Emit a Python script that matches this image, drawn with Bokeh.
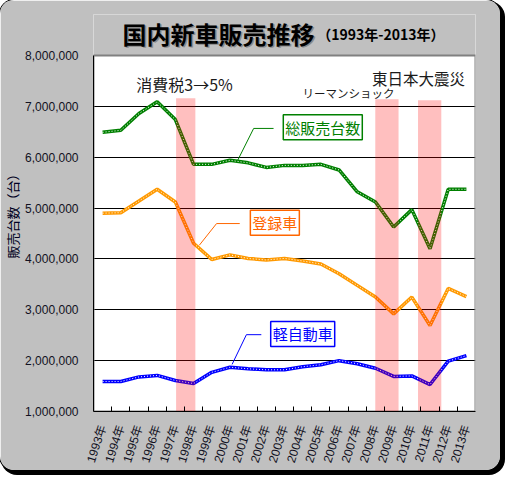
from bokeh.plotting import figure
from bokeh.models import Range1d, FixedTicker, Label, ColumnDataSource, NumeralTickFormatter, CustomJSTickFormatter
from bokeh.embed import file_html
from bokeh.resources import INLINE

# ---------------- data ----------------
years = [1993, 1994, 1995, 1996, 1997, 1998, 1999, 2000, 2001, 2002, 2003,
         2004, 2005, 2006, 2007, 2008, 2009, 2010, 2011, 2012, 2013]
total_sales = [6490000, 6530000, 6860000, 7090000, 6740000, 5860000, 5860000,
               5940000, 5890000, 5800000, 5840000, 5840000, 5860000, 5750000,
               5320000, 5120000, 4630000, 4970000, 4200000, 5370000, 5370000]
registered = [4900000, 4910000, 5140000, 5370000, 5120000, 4310000, 3990000,
              4080000, 4010000, 3980000, 4010000, 3960000, 3900000, 3710000,
              3480000, 3250000, 2920000, 3250000, 2690000, 3420000, 3260000]
kei = [1590000, 1590000, 1680000, 1710000, 1610000, 1550000, 1770000,
       1870000, 1840000, 1820000, 1820000, 1880000, 1920000, 2000000,
       1940000, 1850000, 1690000, 1700000, 1530000, 1990000, 2100000]
series_names = ["総販売台数", "登録車", "軽自動車"]
y_ticks = [1000000, 2000000, 3000000, 4000000, 5000000, 6000000, 7000000, 8000000]

event_names = ["消費税3→5%", "リーマンショック", "東日本大震災"]
event_start = [1997.04, 2007.99, 2010.34]
event_end = [1998.10, 2009.27, 2011.62]
event_top = [7160000, 7140000, 7120000]

title_main = "国内新車販売推移"
title_sub = "（1993年-2013年）"
y_title = "販売台数（台）"

# ---------------- layout helpers (page pixel -> data) ----------------
PX_PER_UNIT = 50.79 / 1000000
FRAME_TOP_PX = 14.5

def xd(px):
    return 1993 + (px - 102.1) / 18.29

def yd(py):
    return 8000000 - (py - 55.5) / PX_PER_UNIT

X0, X1 = years[0] - 0.5, years[-1] + 0.5
Y0, YTOP = y_ticks[0], y_ticks[-1]
Y1 = yd(FRAME_TOP_PX)   # frame extends above the plot area to hold the title

JP = "Noto Sans CJK JP"

p = figure(width=500, height=470, title=None,
           x_range=Range1d(X0, X1), y_range=Range1d(Y0, Y1),
           output_backend="svg", toolbar_location=None,
           min_border_left=91, min_border_right=25, min_border_top=14, min_border_bottom=59)
p.border_fill_color = "#C0C0C0"
p.background_fill_color = "white"
p.outline_line_color = None
p.styles = {"border-radius": "14px",
            "box-shadow": "0 0 0 1px #000, 3px 3px 0 2px #000",
            "overflow": "hidden"}

p.xgrid.visible = False
p.ygrid.ticker = FixedTicker(ticks=y_ticks[1:-1])
p.ygrid.grid_line_color = "black"
p.ygrid.grid_line_width = 1

p.yaxis.ticker = FixedTicker(ticks=y_ticks)
p.yaxis.bounds = (Y0, YTOP)
p.yaxis.formatter = NumeralTickFormatter(format="0,0")
p.yaxis.major_tick_line_color = None
p.yaxis.minor_tick_line_color = None
p.yaxis.axis_line_color = "black"
p.yaxis.major_label_standoff = 9
p.yaxis.major_label_text_font = "Liberation Sans"
p.yaxis.major_label_text_font_size = "12px"
p.yaxis.major_label_text_color = "#111122"
p.yaxis.axis_label = y_title
p.yaxis.axis_label_text_font = JP
p.yaxis.axis_label_text_font_size = "13px"
p.yaxis.axis_label_text_font_style = "normal"
p.yaxis.axis_label_text_color = "#000022"
p.yaxis.axis_label_standoff = 0

p.xaxis.ticker = FixedTicker(ticks=years, minor_ticks=[y + 0.5 for y in years[:-1]])
p.xaxis.formatter = CustomJSTickFormatter(code="return tick.toFixed(0) + '年';")
p.xaxis.major_tick_line_color = None
p.xaxis.minor_tick_in = 5
p.xaxis.minor_tick_out = 0
p.xaxis.minor_tick_line_color = "black"
p.xaxis.axis_line_color = "black"
p.xaxis.major_label_orientation = 1.2566
p.xaxis.major_label_standoff = 8
p.xaxis.major_label_text_font = "Liberation Sans, Noto Sans CJK JP"
p.xaxis.major_label_text_font_size = "12px"
p.xaxis.major_label_text_color = "#111122"

# grey band above the plot area (title zone) and the plot-area outline
p.quad(left=[X0 - 1], right=[X1 + 1], bottom=[YTOP], top=[Y1 + 1000000],
       fill_color="#C0C0C0", line_color=None)
p.quad(left=[X0], right=[X1], bottom=[Y0], top=[YTOP],
       fill_color=None, line_color="#808080", line_width=2)

src = ColumnDataSource(dict(year=years, total=total_sales, reg=registered, kei=kei))
colors = {"total": "#008000", "reg": "#FF9900", "kei": "#0000FF"}
for key in ["total", "reg", "kei"]:
    p.line("year", key, source=src, line_color=colors[key], line_width=3.5)
    p.line("year", key, source=src, line_color="white", line_width=1, line_dash="1 2")

# event bands (semi-transparent, over the lines)
p.quad(left=event_start, right=event_end, bottom=[Y0] * len(event_start), top=event_top,
       fill_color="#FF0000", fill_alpha=0.25, line_color=None)

# event labels
p.add_layout(Label(x=xd(136), y=yd(84), text=event_names[0], text_font=JP,
                   text_font_size="16px", text_color="#1a1a1a", text_baseline="middle"))
p.add_layout(Label(x=xd(303), y=yd(93), text=event_names[1], text_font=JP,
                   text_font_size="11.5px", text_color="#1a1a1a", text_baseline="middle"))
p.add_layout(Label(x=xd(373), y=yd(77.5), text=event_names[2], text_font=JP,
                   text_font_size="15.5px", text_color="#1a1a1a", text_baseline="middle"))

# call-out legends
callouts = [
    (series_names[0], "#008000", "#008000", (323.5, 127), [(238, 160), (254, 128.3), (274, 128.3)]),
    (series_names[1], "#FF6600", "#FF6600", (275.3, 222.5), [(199.3, 245), (216.7, 223.3), (240, 223.3)]),
    (series_names[2], "#0000FF", "#0000FF", (303.3, 333.5), [(232.3, 364), (246.7, 334.3), (261.7, 334.3)]),
]
for name, tcol, bcol, (cx, cy), pts in callouts:
    p.line([xd(a) for a, b in pts], [yd(b) for a, b in pts], line_color=bcol, line_width=1)
    p.add_layout(Label(x=xd(cx), y=yd(cy), text=name, text_font=JP, text_font_size="15px",
                       text_color=tcol, text_align="center", text_baseline="middle",
                       background_fill_color="white", border_line_color=bcol,
                       border_line_width=1.5, padding=2))

# titles (inside the extended frame, on the grey band)
p.add_layout(Label(x=xd(123.5), y=yd(34.5), text=title_main, text_font=JP, text_font_size="24px",
                   text_font_style="bold", text_color="#8a8a8a", text_baseline="middle"))
p.add_layout(Label(x=xd(122), y=yd(33), text=title_main, text_font=JP, text_font_size="24px",
                   text_font_style="bold", text_color="#000000", text_baseline="middle"))
p.add_layout(Label(x=xd(318), y=yd(34), text=title_sub, text_font=JP, text_font_size="14px",
                   text_font_style="bold", text_color="#000000", text_baseline="middle"))

open("out.html", "w").write(file_html(p, INLINE))
